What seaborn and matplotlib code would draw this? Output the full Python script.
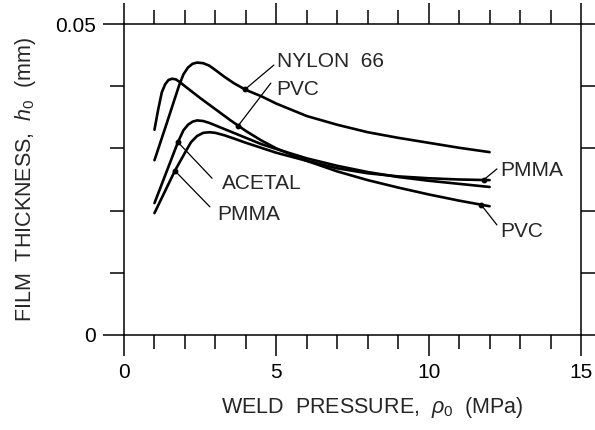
import numpy as np
import pandas as pd
import matplotlib
matplotlib.use("Agg")
import matplotlib.pyplot as plt
import seaborn as sns

# Film thickness h0 (mm) versus weld pressure p0 (MPa) for four polymers
nylon_p = [1.0, 1.4, 1.8, 1.95, 2.1, 2.25, 2.4, 2.6, 2.8, 3.0, 3.3, 3.6, 4.0, 4.5,
           5.0, 6.0, 7.0, 8.0, 9.0, 10.0, 11.0, 12.0]
nylon_h = [0.0281, 0.0340, 0.0400, 0.0419, 0.0430, 0.0436, 0.0438, 0.0437, 0.0433,
           0.0426, 0.0415, 0.0405, 0.0394, 0.0384, 0.0372, 0.0352, 0.0338, 0.0326,
           0.0317, 0.0309, 0.0301, 0.0294]

pvc_p = [1.0, 1.12, 1.24, 1.35, 1.46, 1.58, 1.7, 1.85, 2.0, 2.5, 3.0, 3.5, 4.0, 4.5,
         5.0, 6.0, 7.0, 8.0, 9.0, 10.0, 11.0, 12.0]
pvc_h = [0.0330, 0.0362, 0.0390, 0.0403, 0.0410, 0.0412, 0.0411, 0.0406, 0.0400,
         0.0381, 0.0363, 0.0345, 0.0328, 0.0313, 0.0300, 0.0280, 0.0263, 0.0249,
         0.0237, 0.0226, 0.0216, 0.0207]

acetal_p = [1.0, 1.77, 1.95, 2.1, 2.25, 2.4, 2.6, 2.8, 3.0, 3.5, 4.0, 4.5, 5.0, 6.0,
            7.0, 8.0, 9.0, 10.0, 11.0, 12.0]
acetal_h = [0.0212, 0.0310, 0.0329, 0.0338, 0.0343, 0.0345, 0.0344, 0.0341, 0.0337,
            0.0327, 0.0317, 0.0307, 0.0299, 0.0284, 0.0272, 0.0262, 0.0254, 0.0248,
            0.0243, 0.0238]

pmma_p = [1.0, 1.67, 2.0, 2.2, 2.4, 2.6, 2.8, 3.0, 3.3, 3.6, 4.0, 4.5, 5.0, 6.0,
          7.0, 8.0, 9.0, 10.0, 11.0, 12.0]
pmma_h = [0.0196, 0.0264, 0.0293, 0.0310, 0.0320, 0.0325, 0.0326, 0.0325, 0.0321,
          0.0316, 0.0309, 0.0301, 0.0293, 0.0280, 0.0268, 0.0260, 0.0255, 0.0252,
          0.0250, 0.0249]

x_ticks = [0, 5, 10, 15]
y_ticks = [0, 0.05]
y_tick_labels = ["0", "0.05"]

series = {
    "NYLON 66": (nylon_p, nylon_h),
    "PVC": (pvc_p, pvc_h),
    "ACETAL": (acetal_p, acetal_h),
    "PMMA": (pmma_p, pmma_h),
}

frames = []
for name, (p, h) in series.items():
    frames.append(pd.DataFrame({"polymer": name, "pressure": p, "thickness": h}))
df = pd.concat(frames, ignore_index=True)

# Curve labels: (text, curve, pressure of leader dot, text anchor, leader start)
callouts = [
    ("NYLON  66", "NYLON 66", 3.97, (5.02, 0.04405), (4.92, 0.0434)),
    ("PVC", "PVC", 3.75, (4.99, 0.0394), (4.82, 0.0405)),
    ("ACETAL", "ACETAL", 1.77, (3.22, 0.0244), (2.89, 0.0252)),
    ("PMMA", "PMMA", 1.67, (3.05, 0.01945), (2.82, 0.0206)),
    ("PMMA", "PMMA", 11.8, (12.34, 0.0265), (12.24, 0.0267)),
    ("PVC", "PVC", 11.72, (12.34, 0.01656), (12.24, 0.0177)),
]

sns.set_style("ticks")
plt.rcParams["font.family"] = ["Liberation Sans", "DejaVu Sans"]
plt.rcParams["mathtext.fontset"] = "custom"
plt.rcParams["mathtext.rm"] = "Liberation Sans"
plt.rcParams["mathtext.it"] = "Liberation Sans:italic"

fig = plt.figure(figsize=(5.95, 4.30), dpi=100)
ax = fig.add_axes([124 / 595, 1 - 335 / 430, 457 / 595, 311 / 430])

sns.lineplot(data=df, x="pressure", y="thickness", hue="polymer",
             palette={k: "black" for k in series}, estimator=None, sort=False,
             linewidth=1.9, legend=False, ax=ax)

for text, curve, p_dot, (tx, ty), (lx, ly) in callouts:
    cp, ch = series[curve]
    h_dot = float(np.interp(p_dot, cp, ch))
    ax.plot([lx, p_dot], [ly, h_dot], color="black", linewidth=0.9)
    ax.plot([p_dot], [h_dot], marker="o", markersize=3.2, color="black")
    ax.text(tx, ty, text, fontsize=15, ha="left", va="center")

ax.set_xlim(0, 15)
ax.set_ylim(0, 0.05)
ax.set_xticks(x_ticks)
ax.set_xticks(np.arange(0, 16, 1), minor=True)
ax.set_yticks(y_ticks)
ax.set_yticklabels(y_tick_labels)
ax.set_yticks(np.arange(0, 0.051, 0.01), minor=True)

ax.tick_params(which="both", direction="out", top=True, right=True,
               labelsize=15, width=1.1, colors="black")
ax.tick_params(which="major", length=15, pad=5)
ax.tick_params(which="minor", length=10)
for s in ax.spines.values():
    s.set_linewidth(1.1)
    s.set_color("black")

ax.set_xlabel(r"WELD  PRESSURE,  $\rho_\mathrm{0}$  (MPa)", fontsize=15.5)
ax.set_ylabel(r"FILM  THICKNESS,  $h_\mathrm{0}$  (mm)", fontsize=15.5)
ax.xaxis.set_label_coords((372 - 124) / 457, (335 - 395) / 311)
ax.yaxis.set_label_coords((38 - 124) / 457, 0.5)

fig.savefig("out.png", dpi=100)
